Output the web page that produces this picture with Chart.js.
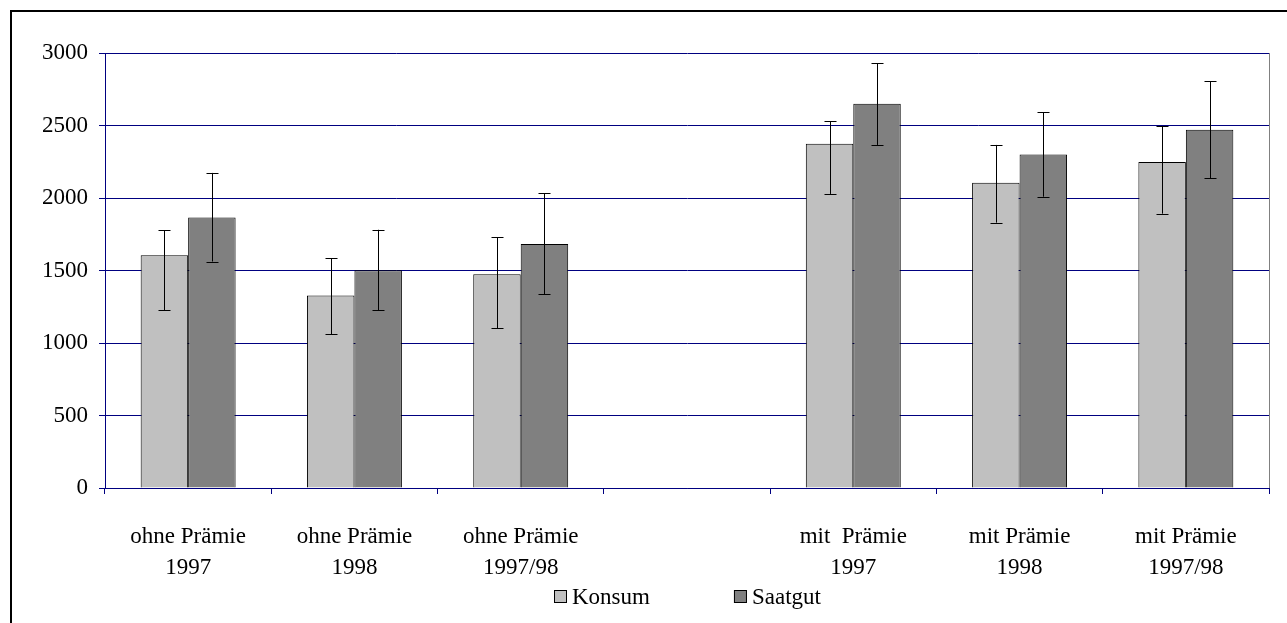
<!DOCTYPE html>
<html>
<head>
<meta charset="utf-8">
<title>Konsum / Saatgut</title>
<script src="https://cdn.jsdelivr.net/npm/chart.js@4.4.1/dist/chart.umd.min.js"></script>
<style>
  html, body { margin: 0; padding: 0; background: #fff; }
  canvas { display: block; }
</style>
</head>
<body>
<canvas id="chart" width="1287" height="623"></canvas>
<script>
// ---- data ----
const categories = [
  ['ohne Prämie', '1997'],
  ['ohne Prämie', '1998'],
  ['ohne Prämie', '1997/98'],
  '',
  ['mit  Prämie', '1997'],
  ['mit Prämie', '1998'],
  ['mit Prämie', '1997/98']
];
const konsum      = [1605, 1327, 1475, null, 2375, 2106, 2249];
const saatgut     = [1866, 1502, 1682, null, 2650, 2300, 2470];
// error bars (lower / upper ends)
const konsumLow   = [1226, 1062, 1101, null, 2028, 1830, 1892];
const konsumHigh  = [1779, 1585, 1730, null, 2528, 2366, 2495];
const saatgutLow  = [1562, 1226, 1336, null, 2366, 2009, 2136];
const saatgutHigh = [2173, 1781, 2032, null, 2929, 2590, 2806];
const yTicks = [0, 500, 1000, 1500, 2000, 2500, 3000];

const NAVY = '#000080';
const FONT = '"Liberation Serif", "Times New Roman", "DejaVu Serif", serif';
const FONT_SIZE = 23;

// ---- plugins ----
const errorBars = {
  id: 'errorBars',
  afterDatasetsDraw(chart) {
    const ctx = chart.ctx;
    const y = chart.scales.y;
    chart.data.datasets.forEach((ds, i) => {
      const meta = chart.getDatasetMeta(i);
      meta.data.forEach((bar, j) => {
        const lo = ds.errLow[j], hi = ds.errHigh[j];
        if (lo == null || hi == null) return;
        const x = Math.round(bar.x) + 0.5;
        const y1 = y.getPixelForValue(lo), y2 = y.getPixelForValue(hi);
        ctx.save();
        ctx.strokeStyle = '#000';
        ctx.lineWidth = 1;
        ctx.beginPath();
        ctx.moveTo(x, y1); ctx.lineTo(x, y2);
        ctx.moveTo(x - 6, Math.round(y1) + 0.5); ctx.lineTo(x + 6, Math.round(y1) + 0.5);
        ctx.moveTo(x - 6, Math.round(y2) + 0.5); ctx.lineTo(x + 6, Math.round(y2) + 0.5);
        ctx.stroke();
        ctx.restore();
      });
    });
  }
};

// frame round the picture + right edge of the plot area
const frame = {
  id: 'frame',
  afterDraw(chart) {
    const ctx = chart.ctx;
    const a = chart.chartArea;
    ctx.save();
    ctx.strokeStyle = '#000';
    ctx.lineWidth = 2;
    ctx.beginPath();
    ctx.moveTo(10, 11); ctx.lineTo(chart.width, 11);
    ctx.moveTo(11, 10); ctx.lineTo(11, chart.height);
    ctx.stroke();
    ctx.strokeStyle = '#808080';
    ctx.lineWidth = 1;
    ctx.beginPath();
    ctx.moveTo(Math.round(a.right) + 0.5, a.top);
    ctx.lineTo(Math.round(a.right) + 0.5, a.bottom);
    ctx.stroke();
    ctx.restore();
  }
};

// legend below the axis labels, centred on the plot area
const bottomLegend = {
  id: 'bottomLegend',
  afterDraw(chart) {
    const ctx = chart.ctx;
    const a = chart.chartArea;
    const box = 13, gapText = 5, gapItem = 84, yMid = 597;
    ctx.save();
    ctx.font = FONT_SIZE + 'px ' + FONT;
    ctx.textBaseline = 'middle';
    const items = chart.data.datasets.map(ds => ({
      ds, w: box + gapText + ctx.measureText(ds.label).width
    }));
    const total = items.reduce((s, it) => s + it.w, 0) + gapItem * (items.length - 1);
    let x = Math.round((a.left + a.right) / 2 - total / 2);
    items.forEach(it => {
      ctx.fillStyle = it.ds.backgroundColor;
      ctx.fillRect(x, yMid - 7, box, box);
      ctx.strokeStyle = '#000';
      ctx.lineWidth = 1;
      ctx.strokeRect(x + 0.5, yMid - 7 + 0.5, box - 1, box - 1);
      ctx.fillStyle = '#000';
      ctx.fillText(it.ds.label, x + box + gapText, yMid + 1);
      x += it.w + gapItem;
    });
    ctx.restore();
  }
};

// ---- chart ----
Chart.defaults.font.family = FONT;
Chart.defaults.color = '#000';

new Chart(document.getElementById('chart'), {
  type: 'bar',
  data: {
    labels: categories,
    datasets: [
      {
        label: 'Konsum',
        data: konsum,
        errLow: konsumLow,
        errHigh: konsumHigh,
        backgroundColor: '#c0c0c0',
        borderColor: '#000',
        borderWidth: 1
      },
      {
        label: 'Saatgut',
        data: saatgut,
        errLow: saatgutLow,
        errHigh: saatgutHigh,
        backgroundColor: '#808080',
        borderColor: '#000',
        borderWidth: 1
      }
    ]
  },
  options: {
    responsive: false,
    animation: false,
    layout: { padding: { left: 0, top: 53, right: 18, bottom: 0 } },
    datasets: {
      bar: { categoryPercentage: 0.571, barPercentage: 1.0 }
    },
    plugins: {
      legend: { display: false },
      tooltip: { enabled: false }
    },
    scales: {
      x: {
        grid: { drawOnChartArea: false, drawTicks: true, tickLength: 6, color: NAVY, offset: true },
        border: { color: NAVY, width: 1 },
        ticks: { font: { size: FONT_SIZE, lineHeight: 1.37 }, padding: 27, maxRotation: 0, autoSkip: false },
        afterFit(scale) { scale.height = 135; }
      },
      y: {
        min: 0,
        max: 3000,
        afterBuildTicks(scale) { scale.ticks = yTicks.map(v => ({ value: v })); },
        grid: { color: NAVY, lineWidth: 1, tickLength: 6 },
        border: { color: NAVY, width: 1 },
        ticks: { font: { size: FONT_SIZE }, padding: 11, callback: v => String(v) },
        afterFit(scale) { scale.width = 105; }
      }
    }
  },
  plugins: [errorBars, frame, bottomLegend]
});
</script>
</body>
</html>
